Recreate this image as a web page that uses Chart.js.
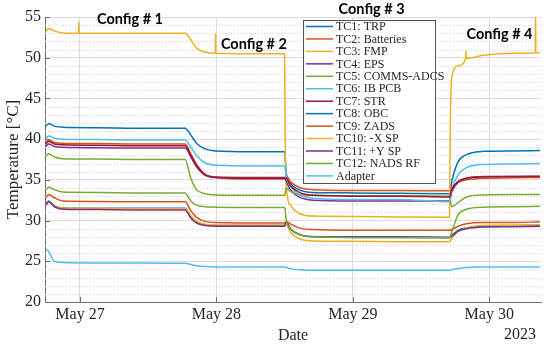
<!DOCTYPE html>
<html>
<head>
<meta charset="utf-8">
<script src="https://cdn.jsdelivr.net/npm/chart.js@4.4.1/dist/chart.umd.min.js"></script>
<style>
  html, body { margin: 0; padding: 0; background: #fff; }
</style>
</head>
<body>
<canvas id="chart" width="550" height="345"></canvas>
<script>
// time in hours from May 27 00:00
const hours = [-6.0, -5.5, -4.5, -3.0, 3, 10, 18.5, 19.5, 20.5, 22, 24, 30, 36.0, 36.3, 37, 38.5, 41, 48, 56, 65.0, 65.4, 66.5, 68, 71, 76, 80.9];

const tc1 = [41.6, 41.9, 41.6, 41.45, 41.4, 41.35, 41.35, 40.5, 39.5, 38.8, 38.55, 38.45, 38.45, 35.8, 34.6, 33.8, 33.45, 33.4, 33.35, 33.3, 34.8, 37.2, 38.1, 38.5, 38.55, 38.6];
const tc2 = [39.6, 39.9, 39.6, 39.5, 39.45, 39.4, 39.4, 38.2, 36.9, 35.7, 35.25, 35.1, 35.1, 35.5, 34.8, 34.1, 33.8, 33.7, 33.7, 33.65, 34.1, 34.7, 35.0, 35.2, 35.25, 35.3];
const tc4 = [39.1, 39.4, 39.1, 39.0, 38.95, 38.9, 38.9, 37.8, 36.6, 35.6, 35.35, 35.3, 35.3, 34.8, 33.8, 32.9, 32.5, 32.4, 32.4, 32.4, 33.5, 34.7, 35.2, 35.4, 35.4, 35.45];
const tc5 = [37.9, 38.2, 37.8, 37.6, 37.55, 37.5, 37.5, 35.2, 33.8, 33.3, 33.15, 33.1, 33.1, 34.0, 33.6, 33.2, 33.1, 33.05, 33.05, 33.0, 31.7, 32.2, 32.9, 33.15, 33.2, 33.2];
const tc6 = [40.1, 40.4, 40.1, 40.0, 39.95, 39.9, 39.9, 39.0, 38.0, 37.1, 36.8, 36.7, 36.7, 35.4, 34.2, 33.2, 32.75, 32.6, 32.6, 32.3, 33.8, 35.6, 36.5, 36.9, 36.95, 37.0];
const tc7 = [39.4, 39.7, 39.4, 39.3, 39.25, 39.2, 39.2, 38.0, 36.8, 35.6, 35.3, 35.2, 35.2, 35.2, 34.3, 33.5, 33.1, 33.0, 33.0, 32.9, 33.8, 34.8, 35.2, 35.35, 35.4, 35.4];
const tc8 = [32.0, 32.4, 31.8, 31.55, 31.5, 31.5, 31.5, 30.4, 29.8, 29.5, 29.4, 29.4, 29.4, 29.8, 29.0, 28.3, 28.05, 28.0, 28.0, 27.95, 28.2, 28.8, 29.1, 29.3, 29.3, 29.35];
const tc9 = [32.8, 33.2, 32.8, 32.4, 32.35, 32.3, 32.3, 31.2, 30.4, 29.9, 29.75, 29.7, 29.7, 29.9, 29.6, 29.1, 28.9, 28.8, 28.8, 28.8, 28.9, 29.3, 29.6, 29.75, 29.75, 29.85];
const tc10 = [31.9, 32.3, 31.8, 31.55, 31.5, 31.45, 31.45, 30.6, 29.9, 29.55, 29.45, 29.45, 29.45, 29.5, 28.6, 27.8, 27.5, 27.45, 27.4, 27.4, 27.8, 28.6, 29.1, 29.4, 29.45, 29.5];
const tc11 = [31.9, 32.3, 31.7, 31.4, 31.35, 31.3, 31.3, 30.3, 29.7, 29.4, 29.3, 29.3, 29.3, 29.8, 29.0, 28.3, 28.0, 27.95, 27.95, 27.9, 28.1, 28.7, 29.0, 29.2, 29.25, 29.3];
const tc12 = [33.8, 34.1, 33.8, 33.5, 33.45, 33.4, 33.4, 32.4, 31.9, 31.7, 31.65, 31.6, 31.6, 30.0, 29.0, 28.3, 28.0, 27.9, 27.9, 27.9, 28.6, 30.7, 31.4, 31.65, 31.7, 31.75];
const adapter = [26.5, 26.2, 25.0, 24.85, 24.8, 24.8, 24.75, 24.6, 24.45, 24.35, 24.3, 24.3, 24.3, 24.25, 24.1, 23.95, 23.9, 23.9, 23.9, 23.9, 23.95, 24.1, 24.25, 24.3, 24.3, 24.3];

// FMP has its own time base because of the spikes
const fmpHours = [-6.0, -5.5, -4.5, -3.0, -0.25, -0.2, -0.15, 10, 18.5, 19.5, 20.5, 22, 23.8, 23.85, 23.9, 30, 36.0, 36.1, 36.3, 37, 38.5, 41, 48, 56, 65.0, 65.15, 65.4, 66.5, 67.85, 67.9, 67.95, 71, 76, 80.1, 80.15, 80.2, 80.9];
const tc3 = [53.2, 53.6, 53.3, 53.05, 53.0, 54.4, 53.0, 53.0, 53.0, 52.2, 51.2, 50.7, 50.55, 53.0, 50.55, 50.5, 50.5, 40.0, 34.2, 31.9, 30.9, 30.55, 30.5, 30.45, 30.4, 42.0, 47.5, 49.0, 49.9, 50.9, 49.9, 50.3, 50.55, 50.6, 55.5, 50.6, 50.6];

const seriesNames = ['TC1: TRP', 'TC2: Batteries', 'TC3: FMP', 'TC4: EPS', 'TC5: COMMS-ADCS', 'TC6: IB PCB', 'TC7: STR', 'TC8: OBC', 'TC9: ZADS', 'TC10: -X SP', 'TC11: +Y SP', 'TC12: NADS RF', 'Adapter'];
const seriesColors = ['#0072BD', '#D95319', '#EDB120', '#7E2F8E', '#77AC30', '#4DBEEE', '#A2142F', '#0072BD', '#D95319', '#EDB120', '#7E2F8E', '#77AC30', '#4DBEEE'];

const dayTicks = [0, 24, 48, 72];
const dayLabels = ['May 27', 'May 28', 'May 29', 'May 30'];

const configNames = ['Config # 1', 'Config # 2', 'Config # 3', 'Config # 4'];
const configHours = [8.8, 30.6, 51.3, 73.8];
const configTemps = [54.75, 51.7, 56.0, 52.9];

const allSeries = [tc1, tc2, tc3, tc4, tc5, tc6, tc7, tc8, tc9, tc10, tc11, tc12, adapter];

const datasets = allSeries.map((vals, i) => {
  const xs = vals === tc3 ? fmpHours : hours;
  return {
    label: seriesNames[i],
    data: vals.map((v, k) => ({ x: xs[k], y: v })),
    borderColor: seriesColors[i],
    backgroundColor: seriesColors[i],
    borderWidth: 1.5,
    pointRadius: 0,
    cubicInterpolationMode: 'monotone',
    order: 20 - i   // later series on top, as in matlab
  };
});

const axisGray = '#6e6e6e';
const serif = '"Liberation Serif", "DejaVu Serif", serif';

const decor = {
  id: 'decor',
  beforeDatasetsDraw(chart) {
    const { ctx, chartArea: a, scales: { y } } = chart;
    ctx.save();
    ctx.strokeStyle = '#cfcfcf';
    ctx.lineWidth = 1;
    ctx.setLineDash([1, 2]);
    for (let t = y.min + 1; t < y.max; t++) {
      if (t % 5 === 0) continue;
      const py = Math.round(y.getPixelForValue(t)) + 0.5;
      ctx.beginPath();
      ctx.moveTo(a.left, py);
      ctx.lineTo(a.right, py);
      ctx.stroke();
    }
    ctx.restore();
  },
  afterDraw(chart) {
    const { ctx, chartArea: a, scales: { x, y } } = chart;
    ctx.save();

    // inward tick marks
    ctx.strokeStyle = axisGray;
    ctx.lineWidth = 1;
    x.ticks.forEach(t => {
      const px = Math.round(x.getPixelForValue(t.value)) + 0.5;
      ctx.beginPath(); ctx.moveTo(px, a.bottom); ctx.lineTo(px, a.bottom - 5); ctx.stroke();
    });
    y.ticks.forEach(t => {
      const py = Math.round(y.getPixelForValue(t.value)) + 0.5;
      ctx.beginPath(); ctx.moveTo(a.left, py); ctx.lineTo(a.left + 5, py); ctx.stroke();
    });

    // year under the last tick
    ctx.fillStyle = '#262626';
    ctx.font = '16px ' + serif;
    ctx.textAlign = 'right';
    ctx.textBaseline = 'middle';
    ctx.fillText('2023', a.right - 5, 335);

    // legend box inside the axes
    const lx = a.left + 258, ly = a.top + 3, lw = 132, lh = 163;
    ctx.fillStyle = '#fff';
    ctx.fillRect(lx, ly, lw, lh);
    ctx.strokeStyle = '#555';
    ctx.lineWidth = 1;
    ctx.strokeRect(lx + 0.5, ly + 0.5, lw, lh);
    ctx.font = '12px ' + serif;
    ctx.textAlign = 'left';
    chart.data.datasets.forEach((ds, i) => {
      const ry = ly + 6.5 + i * 12.45;
      ctx.strokeStyle = ds.borderColor;
      ctx.lineWidth = 1.5;
      ctx.beginPath(); ctx.moveTo(lx + 3, ry); ctx.lineTo(lx + 30, ry); ctx.stroke();
      ctx.fillStyle = '#262626';
      ctx.fillText(ds.label, lx + 33, ry + 0.5);
    });

    // config annotations
    ctx.fillStyle = '#000';
    ctx.font = 'bold 14.5px Lato, "Open Sans", sans-serif';
    ctx.textAlign = 'center';
    configNames.forEach((name, i) => {
      ctx.fillText(name, x.getPixelForValue(configHours[i]), y.getPixelForValue(configTemps[i]));
    });
    ctx.restore();
  }
};

new Chart(document.getElementById('chart'), {
  type: 'line',
  data: { datasets },
  options: {
    responsive: false,
    animation: false,
    devicePixelRatio: 1,
    layout: { padding: { top: 17, right: 9, left: 0, bottom: 0 } },
    plugins: { legend: { display: false }, tooltip: { enabled: false } },
    scales: {
      x: {
        type: 'linear',
        min: -6.15,
        max: 81.1,
        afterBuildTicks: s => { s.ticks = dayTicks.map(v => ({ value: v })); },
        afterFit: s => { s.height = 43; },
        ticks: {
          callback: v => dayLabels[dayTicks.indexOf(v)],
          font: { family: serif, size: 16 },
          color: '#262626',
          padding: 3,
          maxRotation: 0
        },
        grid: { color: '#dcdcdc', drawTicks: false },
        border: { color: axisGray },
        title: {
          display: true,
          text: 'Date',
          font: { family: serif, size: 16 },
          color: '#262626',
          padding: { top: 0, bottom: 0 }
        }
      },
      y: {
        min: 20,
        max: 55,
        afterFit: s => { s.width = 45; },
        ticks: {
          stepSize: 5,
          font: { family: serif, size: 16 },
          color: '#262626',
          padding: 4
        },
        grid: { color: '#dcdcdc', drawTicks: false },
        border: { color: axisGray },
        title: {
          display: true,
          text: 'Temperature [°C]',
          font: { family: serif, size: 17 },
          color: '#262626',
          padding: { top: 3, bottom: 0 }
        }
      }
    }
  },
  plugins: [decor]
});
</script>
</body>
</html>
